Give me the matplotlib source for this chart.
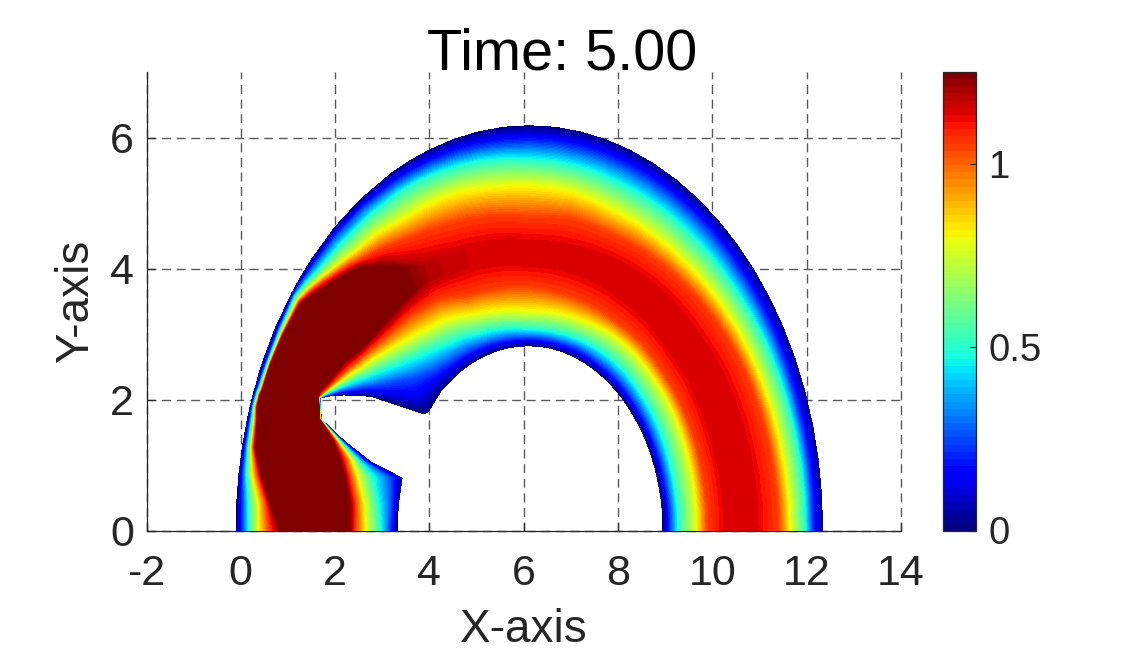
import numpy as np
import matplotlib
matplotlib.use("Agg")
import matplotlib.pyplot as plt
from matplotlib.cm import ScalarMappable
from matplotlib.colors import Normalize

plt.rcParams['font.family'] = ['Liberation Sans', 'DejaVu Sans']
plt.rcParams['axes.unicode_minus'] = False

title = "Time: 5.00"
x_label = "X-axis"
y_label = "Y-axis"
x_ticks = [-2, 0, 2, 4, 6, 8, 10, 12, 14]
y_ticks = [0, 2, 4, 6]
x_limits = [-2, 14]
y_limits = [0, 7]
cbar_ticks = [0, 0.5, 1]
cbar_labels = ["0", "0.5", "1"]
value_limits = [0, 1.25]

# Section ends across the band, left foot to right foot
outer_x = [-0.10, -0.085, -0.04, 0.036, 0.141, 0.205, 0.275, 0.32, 0.39, 0.483, 0.733, 1.088, 1.287,
           1.498, 1.958, 2.12, 2.552, 3.2, 3.59, 3.993, 4.51, 5.04, 5.578, 6.12, 6.662, 7.2,
           7.73, 8.247, 8.749, 9.23, 9.688, 10.118, 10.518, 10.885, 11.215, 11.507, 11.757,
           11.965, 12.128, 12.245, 12.316, 12.34]
outer_y = [-0.07, 0.431, 0.86, 1.285, 1.703, 1.91, 2.114, 2.21, 2.41, 2.612, 3.09, 3.632, 3.889,
           4.135, 4.593, 4.73, 5.062, 5.457, 5.646, 5.807, 5.969, 6.086, 6.157, 6.18, 6.157, 6.086,
           5.969, 5.807, 5.601, 5.352, 5.063, 4.734, 4.37, 3.972, 3.545, 3.09, 2.612,
           2.114, 1.599, 1.073, 0.539, -0.07]
inner_x = [3.31, 3.34, 3.42, 2.75, 2.29, 1.97, 1.72, 1.69, 1.69, 1.83, 2.18, 2.75, 3.03,
           3.31, 3.88, 3.98, 4.27, 4.675, 4.896, 5.125, 5.362, 5.605, 5.851, 6.1, 6.349, 6.595,
           6.838, 7.075, 7.304, 7.525, 7.735, 7.93, 8.115, 8.28, 8.435, 8.57, 8.683,
           8.78, 8.853, 8.91, 8.948, 8.95]
inner_y = [-0.07, 0.40, 0.80, 1.05, 1.31, 1.51, 1.69, 1.82, 2.02, 2.05, 2.07, 2.05, 1.985,
           1.92, 1.78, 1.82, 2.16, 2.44, 2.556, 2.65, 2.724, 2.78, 2.809, 2.82, 2.809, 2.78,
           2.724, 2.65, 2.556, 2.44, 2.31, 2.16, 1.994, 1.81, 1.617, 1.41, 1.192,
           0.965, 0.73, 0.49, 0.246, -0.07]

# Highest value along each section
section_peak = [1.28, 1.28, 1.28, 1.28, 1.28, 1.28, 1.28, 1.28, 1.28, 1.28, 1.28, 1.28, 1.28,
                1.28, 1.28, 1.28, 1.27, 1.19, 1.17, 1.155, 1.15, 1.15, 1.15, 1.15, 1.15, 1.15,
                1.15, 1.15, 1.15, 1.15, 1.15, 1.15, 1.15, 1.15, 1.15, 1.15, 1.15,
                1.15, 1.15, 1.15, 1.15, 1.15]

# Values reached at each fraction across a section (outer edge -> inner edge)
band_values_rising = [0.0, 0.25, 0.5, 0.78, 1.05]
band_values_falling = [1.05, 0.78, 0.5, 0.25, 0.0]

# Fractions where the rising values occur, then the two ends of the core,
# then the fractions where the falling values occur
band_fractions = [
    [.045, .083, .135, .213, .30, .70, .74, .81, .90, .95],
    [.04, .075, .13, .18, .215, .69, .735, .79, .87, .955],
    [.025, .05, .08, .115, .145, .64, .68, .73, .815, .93],
    [.025, .045, .065, .085, .105, .74, .80, .85, .90, .95],
    [.025, .045, .065, .085, .10, .835, .87, .90, .93, .965],
    [.02, .04, .055, .07, .085, .90, .925, .945, .965, .985],
    [.03, .05, .07, .085, .10, .955, .965, .975, .985, .992],
    [.035, .06, .08, .10, .115, .985, .988, .991, .994, .997],
    [.05, .075, .10, .115, .13, .95, .965, .975, .985, .993],
    [.05, .07, .09, .105, .123, .86, .915, .938, .956, .985],
    [.04, .06, .085, .10, .115, .775, .827, .861, .902, .943],
    [.02, .04, .07, .09, .115, .654, .72, .772, .834, .908],
    [.028, .06, .095, .12, .155, .62, .68, .733, .80, .88],
    [.035, .08, .12, .15, .19, .593, .64, .695, .77, .854],
    [.035, .085, .15, .19, .23, .515, .577, .645, .723, .811],
    [.04, .09, .16, .21, .25, .512, .578, .652, .732, .825],
    [.045, .095, .18, .26, .37, .52, .609, .71, .80, .90],
    [.055, .105, .215, .32, .47, .54, .64, .75, .85, .93],
    [.06, .11, .22, .34, .49, .56, .67, .775, .865, .935],
    [.065, .12, .225, .36, .50, .58, .70, .80, .885, .945],
    [.07, .13, .235, .375, .51, .59, .71, .815, .895, .95],
    [.075, .14, .25, .39, .52, .60, .72, .83, .905, .955],
    [.08, .15, .26, .405, .53, .61, .725, .84, .913, .958],
    [.083, .16, .264, .415, .54, .62, .73, .846, .92, .96],
    [.084, .162, .267, .41, .54, .62, .735, .843, .92, .96],
    [.085, .165, .27, .40, .54, .62, .74, .84, .92, .96],
    [.085, .167, .278, .40, .53, .62, .74, .835, .915, .958],
    [.085, .17, .285, .40, .52, .62, .74, .83, .91, .955],
    [.085, .168, .283, .39, .51, .62, .74, .82, .905, .955],
    [.085, .165, .28, .38, .50, .62, .74, .81, .90, .955],
    [.083, .163, .275, .37, .49, .62, .735, .805, .898, .952],
    [.08, .16, .27, .36, .48, .62, .73, .80, .895, .95],
    [.08, .155, .26, .347, .475, .62, .73, .797, .895, .95],
    [.08, .15, .25, .335, .47, .62, .73, .795, .895, .95],
    [.078, .142, .243, .322, .46, .61, .727, .792, .895, .95],
    [.075, .135, .235, .31, .45, .61, .725, .79, .895, .95],
    [.075, .13, .228, .302, .445, .61, .722, .79, .897, .95],
    [.075, .125, .22, .295, .44, .61, .72, .79, .90, .95],
    [.072, .12, .215, .29, .435, .60, .72, .79, .90, .95],
    [.07, .115, .21, .285, .43, .60, .72, .79, .90, .95],
    [.07, .112, .205, .28, .43, .60, .72, .79, .90, .95],
    [.07, .11, .20, .275, .43, .60, .72, .79, .90, .95],
]

frac = np.array(band_fractions)
n_sec = frac.shape[0]
v = np.column_stack([np.zeros(n_sec), frac, np.ones(n_sec)])
ox, oy = np.array(outer_x)[:, None], np.array(outer_y)[:, None]
ix, iy = np.array(inner_x)[:, None], np.array(inner_y)[:, None]
X = ox + (ix - ox) * v
Y = oy + (iy - oy) * v
peak = np.array(section_peak)[:, None]
Z = np.hstack([
    np.tile(band_values_rising, (n_sec, 1)),
    peak, peak,
    np.tile(band_values_falling, (n_sec, 1)),
])

fig = plt.figure(figsize=(11.25, 6.56), dpi=100, facecolor='white')
W, H = 1125.0, 656.0
ax = fig.add_axes([146.5 / W, (H - 530.5) / H, 754.5 / W, 458.5 / H])
cax = fig.add_axes([943 / W, (H - 530.5) / H, 33 / W, 458.5 / H])

cmap = plt.get_cmap('jet', 64)
levels = np.linspace(value_limits[0], value_limits[1], 65)
ax.contourf(X, Y, Z, levels=levels, cmap=cmap, extend='max', zorder=3)

ax.set_xlim(x_limits)
ax.set_ylim(y_limits)
ax.set_xticks(x_ticks)
ax.set_yticks(y_ticks)
ax.set_xticklabels([str(t) for t in x_ticks])
ax.set_yticklabels([str(t) for t in y_ticks])
ax.set_axisbelow(True)
ax.grid(True, color='#5a5a5a', linewidth=1.0, linestyle=(0, (6.5, 4)))
for gl in ax.get_xgridlines() + ax.get_ygridlines():
    gl.set_clip_on(False)
ax.spines['top'].set_visible(False)
ax.spines['right'].set_visible(False)
for s in ('left', 'bottom'):
    ax.spines[s].set_color('#262626')
    ax.spines[s].set_linewidth(0.9)
ax.tick_params(direction='in', length=5.5, width=0.9, color='#262626',
               labelcolor='#262626', labelsize=31)
ax.tick_params(axis='x', pad=17)
ax.tick_params(axis='y', pad=9)
ax.set_xlabel(x_label, fontsize=33, color='#262626', va='center')
ax.xaxis.set_label_coords(524 / W, 1 - 630 / H, transform=fig.transFigure)
ax.set_ylabel(y_label, fontsize=33, color='#262626', va='center')
ax.yaxis.set_label_coords(76 / W, 1 - 301 / H, transform=fig.transFigure)
ax.set_title(title, fontsize=41.5, color='black', x=(562 - 146.5) / 754.5,
             y=(530.5 - 69) / 458.5, va='baseline', pad=0)

cb = fig.colorbar(ScalarMappable(Normalize(*value_limits), cmap), cax=cax)
cb.set_ticks(cbar_ticks)
cb.set_ticklabels(cbar_labels)
cb.ax.tick_params(direction='in', length=4, width=0.8, color='#262626',
                  labelcolor='#262626', labelsize=27.5, pad=9)
cb.outline.set_edgecolor('#262626')
cb.outline.set_linewidth(0.9)

fig.savefig('out.png', dpi=100, facecolor='white')
